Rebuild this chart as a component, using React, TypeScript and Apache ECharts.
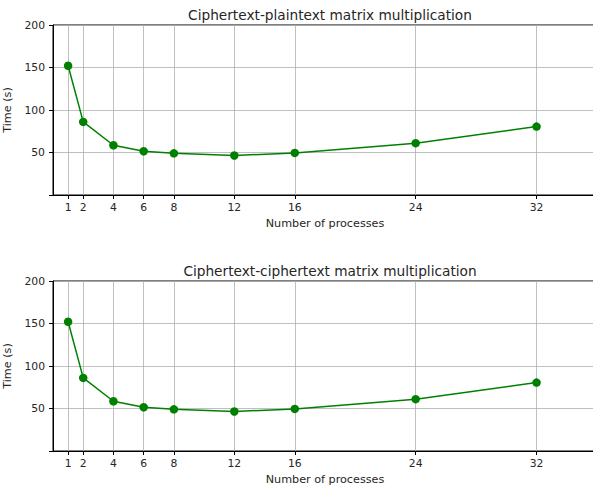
import React, { useEffect, useRef } from "react";
import * as echarts from "echarts";

const processes = [1, 2, 4, 6, 8, 12, 16, 24, 32];
const plainTimes = [152, 86, 58.5, 51.5, 49, 46.5, 49.5, 61, 80.5];
const cipherTimes = [152, 86, 58.5, 51.5, 49, 46.5, 49.5, 61, 80.5];
const yTicks = [0, 50, 100, 150, 200];
const titles = [
  "Ciphertext-plaintext matrix multiplication",
  "Ciphertext-ciphertext matrix multiplication",
];
const xName = "Number of processes";
const yName = "Time (s)";

const FONT = "DejaVu Sans";
const TXT = "#262626";

export default function App() {
  const ref = useRef<HTMLDivElement>(null);
  useEffect(() => {
    if (!ref.current) return;
    const chart = echarts.init(ref.current, null, { renderer: "svg" });
    const grids = [
      { left: 53, top: 25, height: 170, right: -4 },
      { left: 53, top: 281, height: 170, right: -4 },
    ];
    const seriesData = [plainTimes, cipherTimes];
    const option: any = {
      animation: false,
      backgroundColor: "#ffffff",
      title: titles.map((t, i) => ({
        text: t,
        left: 325,
        textAlign: "center",
        top: i === 0 ? 3 : 259,
        textStyle: { fontFamily: FONT, fontSize: 13.7, fontWeight: "normal", color: TXT },
      })),
      grid: grids.map((g) => ({
        ...g,
        containLabel: false,
        outerBoundsMode: "none",
        show: true,
        borderColor: "#000",
        borderWidth: 1,
        backgroundColor: "transparent",
      })),
      xAxis: [0, 1].map((i) => ({
        type: "value",
        gridIndex: i,
        min: 0,
        max: 36,
        name: xName,
        nameLocation: "middle",
        nameGap: 23,
        nameTextStyle: { fontFamily: FONT, fontSize: 11.2, color: TXT },
        axisLine: { show: true, onZero: false, lineStyle: { color: "#000", width: 1 } },
        axisTick: { show: true, length: 4, customValues: processes, lineStyle: { color: "#000" } },
        axisLabel: { customValues: processes, margin: 7, fontFamily: FONT, fontSize: 10.8, color: TXT },
        splitLine: { show: false },
      })),
      yAxis: [0, 1].map((i) => ({
        type: "value",
        gridIndex: i,
        min: 0,
        max: 200,
        interval: 50,
        name: yName,
        nameLocation: "middle",
        nameGap: 34,
        nameTextStyle: { fontFamily: FONT, fontSize: 11.2, color: TXT },
        axisLine: { show: true, lineStyle: { color: "#000", width: 1 } },
        axisTick: { show: true, length: 4, lineStyle: { color: "#000" } },
        axisLabel: {
          margin: 8,
          fontFamily: FONT,
          fontSize: 10.8,
          color: TXT,
          formatter: (v: number) => (v === 0 ? "" : String(v)),
        },
        splitLine: { show: true, lineStyle: { color: "#b0b0b0", width: 0.8 } },
      })),
      series: [0, 1].flatMap((i) => [
        {
          type: "line",
          xAxisIndex: i,
          yAxisIndex: i,
          data: processes.map((p, k) => [p, seriesData[i][k]]),
          symbol: "circle",
          symbolSize: 8.5,
          itemStyle: { color: "#008000" },
          lineStyle: { color: "#008000", width: 1.5 },
          z: 5,
          markLine: {
            silent: true,
            symbol: "none",
            label: { show: false },
            lineStyle: { color: "#b0b0b0", width: 0.8, type: "solid" },
            data: processes.map((p) => ({ xAxis: p })),
            z: 1,
          },
        },
      ]),
    };
    chart.setOption(option);
    return () => chart.dispose();
  }, []);
  return (
    <div
      ref={ref}
      style={{ position: "absolute", left: 0, top: 0, width: 593, height: 489 }}
    />
  );
}
